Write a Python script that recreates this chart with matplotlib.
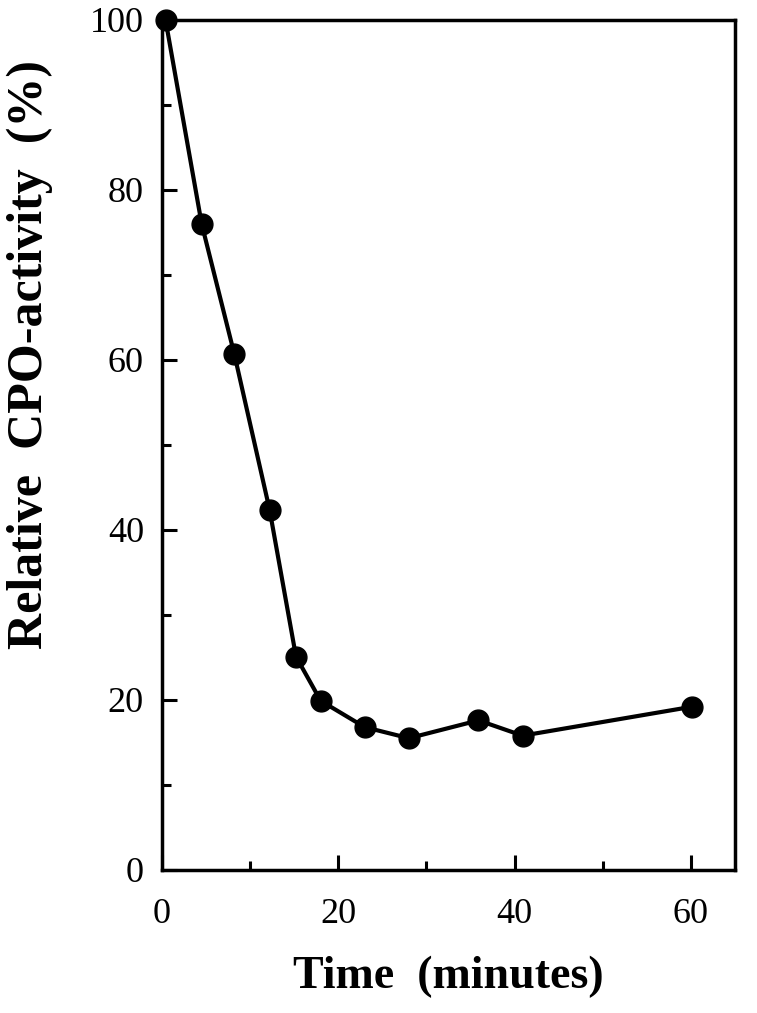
import matplotlib
matplotlib.use("Agg")
import matplotlib.pyplot as plt
from matplotlib.ticker import MultipleLocator

# time (min) and remaining activity (%)
time_min = [0.4, 4.5, 8.2, 12.2, 15.2, 18.0, 23.0, 28.0, 35.9, 40.9, 60.1]
activity = [100.0, 76.0, 60.7, 42.4, 25.1, 19.9, 16.8, 15.5, 17.6, 15.8, 19.2]

x_ticks = [0, 20, 40, 60]
y_ticks = [0, 20, 40, 60, 80, 100]

plt.rcParams['font.family'] = ['Liberation Serif', 'DejaVu Serif']

fig = plt.figure(figsize=(7.57, 10.13), dpi=100)
ax = fig.add_axes([0.214, 0.1412, 0.757, 0.8391])

ax.plot(time_min, activity, color='black', lw=3, marker='o', ms=15,
        clip_on=False, zorder=3)

ax.set_xlim(0, 65)
ax.set_ylim(0, 100)
ax.set_xticks(x_ticks)
ax.set_yticks(y_ticks)
ax.xaxis.set_minor_locator(MultipleLocator(10))
ax.yaxis.set_minor_locator(MultipleLocator(10))
ax.tick_params(which='major', direction='in', length=11, width=2.2,
               labelsize=26)
ax.tick_params(which='minor', direction='in', length=6.5, width=2.2)
ax.tick_params(axis='x', which='major', pad=20)
ax.tick_params(axis='y', which='major', pad=13)
for s in ax.spines.values():
    s.set_linewidth(2.5)

ax.set_xlabel('Time  (minutes)', fontsize=33, fontweight='bold', labelpad=18)
ax.set_ylabel('Relative  CPO-activity  (%)', fontsize=36, fontweight='bold')
ax.yaxis.set_label_coords(-0.19, 0.606)

fig.savefig('out.png', dpi=100)
